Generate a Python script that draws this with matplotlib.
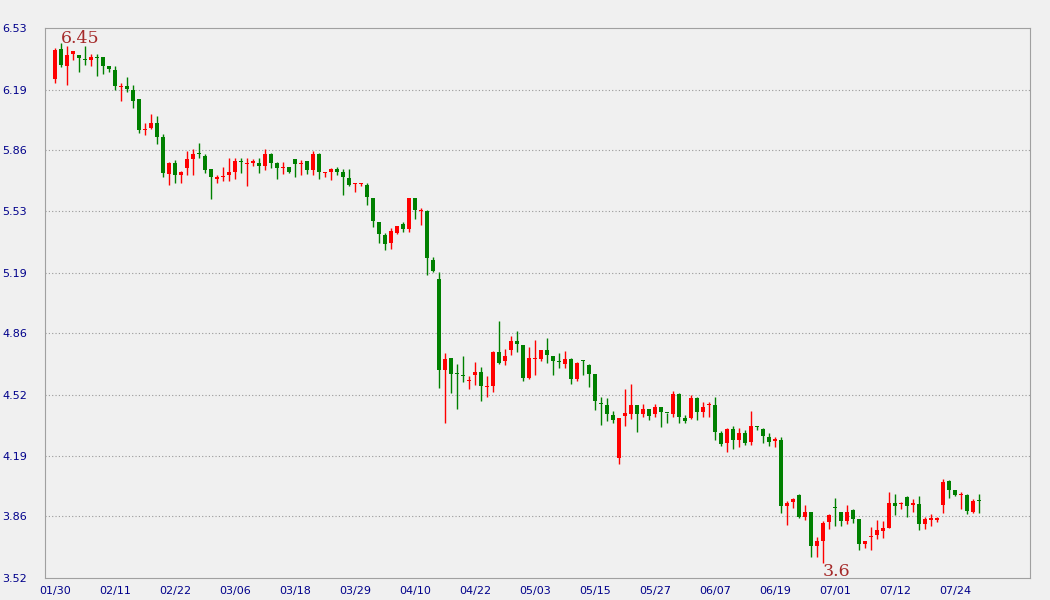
import numpy as np
import matplotlib
matplotlib.use('Agg')
import matplotlib.pyplot as plt

# daily candles, one label every 10 bars
dates = ['01/30', '02/11', '02/22', '03/06', '03/18', '03/29', '04/10', '04/22',
         '05/03', '05/15', '05/27', '06/07', '06/19', '07/01', '07/12', '07/24']

opens = [6.25, 6.415, 6.324, 6.389, 6.38, 6.36, 6.357, 6.372, 6.371, 6.322,
         6.30, 6.208, 6.213, 6.19, 6.141, 5.97, 5.984, 6.01, 5.933, 5.731,
         5.791, 5.727, 5.765, 5.813, 5.843, 5.829, 5.757, 5.706, 5.715, 5.727,
         5.744, 5.801, 5.787, 5.79, 5.791, 5.776, 5.84, 5.791, 5.764, 5.769,
         5.813, 5.786, 5.802, 5.755, 5.84, 5.738, 5.744, 5.758, 5.742, 5.709,
         5.678, 5.678, 5.671, 5.601, 5.468, 5.397, 5.355, 5.41, 5.457, 5.43,
         5.60, 5.527, 5.528, 5.26, 5.156, 4.66, 4.724, 4.639, 4.628, 4.60,
         4.631, 4.647, 4.563, 4.571, 4.757, 4.707, 4.769, 4.817, 4.795, 4.616,
         4.718, 4.72, 4.768, 4.735, 4.707, 4.693, 4.718, 4.61, 4.709, 4.686,
         4.636, 4.473, 4.467, 4.412, 4.178, 4.407, 4.419, 4.467, 4.419, 4.445,
         4.419, 4.456, 4.424, 4.419, 4.527, 4.396, 4.397, 4.505, 4.43, 4.465,
         4.467, 4.313, 4.26, 4.335, 4.277, 4.313, 4.266, 4.352, 4.335, 4.292,
         4.272, 4.275, 3.916, 3.937, 3.974, 3.855, 3.881, 3.697, 3.722, 3.826,
         3.905, 3.881, 3.834, 3.892, 3.843, 3.708, 3.743, 3.757, 3.779, 3.795,
         3.93, 3.925, 3.963, 3.922, 3.925, 3.817, 3.84, 3.84, 3.921, 4.051,
         4.001, 3.972, 3.975, 3.883, 3.943]

highs = [6.42, 6.45, 6.433, 6.404, 6.38, 6.431, 6.39, 6.388, 6.371, 6.322,
         6.322, 6.229, 6.262, 6.218, 6.141, 6.012, 6.059, 6.048, 5.948, 5.798,
         5.808, 5.749, 5.858, 5.866, 5.902, 5.84, 5.76, 5.724, 5.768, 5.818,
         5.818, 5.818, 5.818, 5.811, 5.818, 5.868, 5.846, 5.797, 5.797, 5.769,
         5.813, 5.808, 5.802, 5.857, 5.846, 5.742, 5.764, 5.769, 5.758, 5.758,
         5.68, 5.68, 5.68, 5.601, 5.468, 5.408, 5.437, 5.446, 5.468, 5.60,
         5.60, 5.545, 5.534, 5.277, 5.194, 4.751, 4.724, 4.693, 4.737, 4.627,
         4.702, 4.675, 4.625, 4.762, 4.926, 4.773, 4.844, 4.872, 4.795, 4.784,
         4.823, 4.768, 4.833, 4.735, 4.751, 4.762, 4.724, 4.702, 4.713, 4.691,
         4.636, 4.51, 4.505, 4.434, 4.396, 4.554, 4.582, 4.467, 4.472, 4.445,
         4.472, 4.456, 4.424, 4.543, 4.532, 4.412, 4.521, 4.51, 4.483, 4.483,
         4.51, 4.324, 4.341, 4.352, 4.341, 4.33, 4.434, 4.352, 4.341, 4.313,
         4.291, 4.291, 3.943, 3.959, 3.98, 3.921, 3.881, 3.744, 3.832, 3.87,
         3.958, 3.881, 3.92, 3.897, 3.843, 3.722, 3.799, 3.837, 3.832, 3.99,
         3.98, 3.936, 3.969, 3.952, 3.969, 3.854, 3.87, 3.854, 4.062, 4.056,
         4.001, 3.99, 3.98, 3.952, 3.98]

lows = [6.23, 6.317, 6.22, 6.357, 6.291, 6.329, 6.324, 6.27, 6.28, 6.291,
        6.192, 6.129, 6.18, 6.094, 5.957, 5.944, 5.977, 5.897, 5.716, 5.672,
        5.683, 5.683, 5.727, 5.727, 5.82, 5.738, 5.596, 5.683, 5.69, 5.69,
        5.705, 5.738, 5.667, 5.776, 5.738, 5.755, 5.765, 5.705, 5.733, 5.738,
        5.716, 5.727, 5.733, 5.727, 5.705, 5.716, 5.70, 5.727, 5.618, 5.667,
        5.634, 5.667, 5.561, 5.442, 5.353, 5.317, 5.32, 5.404, 5.415, 5.415,
        5.486, 5.454, 5.18, 5.196, 4.561, 4.37, 4.534, 4.447, 4.594, 4.556,
        4.576, 4.488, 4.51, 4.538, 4.691, 4.686, 4.74, 4.759, 4.60, 4.611,
        4.63, 4.708, 4.698, 4.632, 4.67, 4.67, 4.583, 4.60, 4.632, 4.567,
        4.439, 4.359, 4.381, 4.37, 4.145, 4.352, 4.39, 4.32, 4.401, 4.386,
        4.401, 4.348, 4.37, 4.401, 4.37, 4.37, 4.392, 4.386, 4.401, 4.401,
        4.277, 4.244, 4.211, 4.228, 4.239, 4.25, 4.25, 4.332, 4.26, 4.244,
        4.239, 3.877, 3.812, 3.905, 3.85, 3.839, 3.637, 3.637, 3.60, 3.788,
        3.806, 3.806, 3.817, 3.823, 3.675, 3.686, 3.675, 3.735, 3.74, 3.795,
        3.866, 3.898, 3.855, 3.883, 3.783, 3.786, 3.806, 3.828, 3.877, 3.959,
        3.97, 3.9, 3.872, 3.877, 3.877]

closes = [6.41, 6.33, 6.382, 6.404, 6.367, 6.357, 6.371, 6.368, 6.324, 6.307,
          6.214, 6.212, 6.196, 6.132, 5.972, 5.975, 6.01, 5.935, 5.738, 5.791,
          5.727, 5.742, 5.813, 5.84, 5.838, 5.754, 5.714, 5.71, 5.72, 5.742,
          5.802, 5.797, 5.79, 5.802, 5.776, 5.84, 5.791, 5.765, 5.768, 5.744,
          5.787, 5.79, 5.755, 5.84, 5.744, 5.742, 5.758, 5.744, 5.716, 5.672,
          5.68, 5.68, 5.607, 5.475, 5.404, 5.35, 5.419, 5.446, 5.43, 5.60,
          5.536, 5.53, 5.273, 5.202, 4.66, 4.718, 4.638, 4.636, 4.625, 4.603,
          4.647, 4.571, 4.566, 4.757, 4.697, 4.735, 4.817, 4.802, 4.616, 4.724,
          4.72, 4.768, 4.742, 4.709, 4.704, 4.718, 4.61, 4.697, 4.707, 4.638,
          4.49, 4.471, 4.419, 4.386, 4.396, 4.423, 4.467, 4.419, 4.445, 4.408,
          4.456, 4.43, 4.422, 4.527, 4.403, 4.381, 4.505, 4.43, 4.456, 4.467,
          4.321, 4.255, 4.335, 4.277, 4.313, 4.26, 4.352, 4.348, 4.299, 4.266,
          4.274, 3.916, 3.932, 3.954, 3.855, 3.883, 3.697, 3.722, 3.821, 3.865,
          3.902, 3.834, 3.881, 3.845, 3.708, 3.722, 3.746, 3.783, 3.794, 3.93,
          3.914, 3.928, 3.916, 3.925, 3.817, 3.843, 3.843, 3.843, 4.045, 4.003,
          3.976, 3.975, 3.888, 3.941, 3.941]

yticks = [6.53, 6.19, 5.86, 5.53, 5.19, 4.86, 4.52, 4.19, 3.86, 3.52]

o = np.array(opens)
h = np.array(highs)
l = np.array(lows)
c = np.array(closes)
x = np.arange(len(o))

fig = plt.figure(figsize=(10.5, 6), dpi=100, facecolor='#f0f0f0')
ax = fig.add_axes([45/1050, 22/600, 985/1050, 550/600])
ax.set_facecolor('#f0f0f0')

for v in yticks[1:-1]:
    ax.axhline(v, color='#999999', lw=0.8, ls=(0, (1, 2)), zorder=1)

colors = np.where(c >= o, '#ff0000', '#008000')
ax.vlines(x, l, h, colors=colors, lw=1, zorder=2)
body = np.maximum(np.abs(c - o), 0.006)
ax.bar(x, body, width=0.83, bottom=np.minimum(o, c), color=colors, linewidth=0, zorder=3)

ax.set_xlim(-1.667, 162.5)
ax.set_ylim(3.52, 6.53)

ax.set_yticks(yticks)
ax.set_yticklabels([f'{v:.2f}' for v in yticks])
ax.set_xticks(x[::10])
ax.set_xticklabels(dates)
ax.tick_params(length=0, labelsize=8, labelcolor='#00008b')
ax.tick_params(axis='y', pad=13)
ax.tick_params(axis='x', pad=6)
for s in ax.spines.values():
    s.set_color('#a0a0a0')

# max / min labels
imax = int(np.argmax(h))
imin = int(np.argmin(l))
ax.text(imax, h[imax], f'{round(h[imax], 2):g}', ha='left', va='baseline',
        family='DejaVu Serif', fontsize=12.5, color='#a52a2a')
ax.text(imin, l[imin], f'{round(l[imin], 2):g}', ha='left', va='top',
        family='DejaVu Serif', fontsize=12.5, color='#a52a2a')

fig.savefig('out.png', dpi=100, facecolor=fig.get_facecolor())
